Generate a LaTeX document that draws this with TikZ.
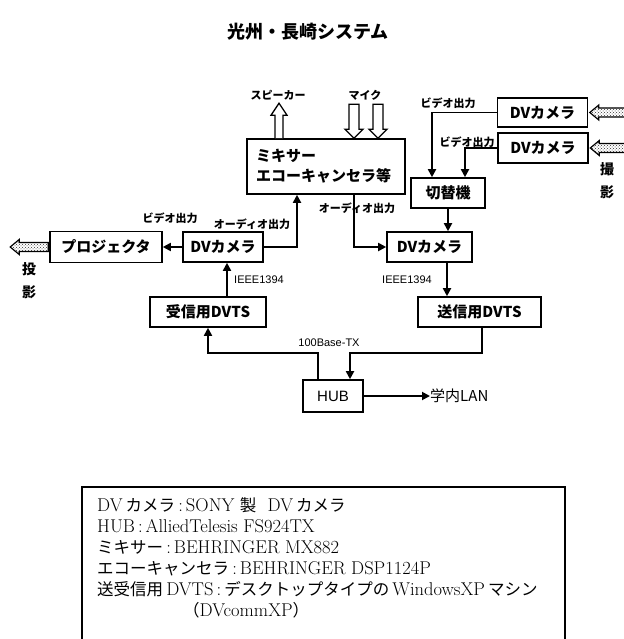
\documentclass[tikz,border=0pt]{standalone}
\usepackage{fontspec}
\newfontfamily\jp{Noto Sans CJK JP}
\newfontfamily\ls{Liberation Sans}
\usetikzlibrary{arrows.meta,patterns,calc}
\newcommand\Jtxt[1]{{\jp\fontsize{16.5}{21}\selectfont #1}}
\tikzset{
  box/.style={draw, line width=1.6pt, inner sep=0pt, font=\jp\bfseries\fontsize{15}{15}\selectfont},
  conn/.style={line width=1.8pt, -{Triangle[length=8pt,width=8pt]}},
  lbl/.style={inner sep=0pt, font=\jp\bfseries\fontsize{11}{11}\selectfont},
  nlbl/.style={inner sep=0pt, font=\ls\fontsize{11}{11}\selectfont},
  vlbl/.style={inner sep=0pt, align=center, font=\jp\bfseries\fontsize{14}{23}\selectfont},
  hollow/.style={draw, line width=1.3pt, fill=white},
  hatched/.style={draw, line width=1.2pt, pattern=crosshatch dots, pattern color=black!80}
}
\begin{document}
\begin{tikzpicture}[x=1pt,y=-1pt]
\useasboundingbox (0,0) rectangle (623,639);
% title
\node[inner sep=0pt, font=\jp\bfseries\fontsize{18}{18}\selectfont] (title) at (308,32) {光州・長崎システム};
% boxes
\node[box, minimum width=158, minimum height=55, align=left, text width=140pt,
      font=\jp\bfseries\fontsize{15}{20}\selectfont] (mix) at (326,166.5) {ミキサー\\エコーキャンセラ等};
\node[box, minimum width=90, minimum height=29] (cam1) at (542.5,112.5) {DVカメラ};
\node[box, minimum width=90, minimum height=30] (cam2) at (543,148) {DVカメラ};
\node[box, minimum width=74, minimum height=30] (sw) at (448,193) {切替機};
\node[box, minimum width=85, minimum height=30] (camR) at (429.5,247) {DVカメラ};
\node[box, minimum width=123, minimum height=30] (send) at (479.5,312) {送信用DVTS};
\node[box, minimum width=80, minimum height=30] (camL) at (223,247) {DVカメラ};
\node[box, minimum width=112, minimum height=31] (proj) at (106,247) {プロジェクタ};
\node[box, minimum width=116, minimum height=30] (recv) at (208,312) {受信用DVTS};
\node[box, minimum width=60, minimum height=32, font=\ls\fontsize{15}{15}\selectfont] (hub) at (333,396) {HUB};
\node[inner sep=0pt, anchor=west, font=\jp\fontsize{15}{15}\selectfont] (lan) at (430,396) {学内LAN};
\coordinate (bus) at (0,353);
% connectors
\draw[conn] (cam1.west) -| ([xshift=-16pt]sw.north);
\draw[conn] (cam2.west) -| ([xshift=17pt]sw.north);
\draw[conn] (sw.south) -- (sw.south |- camR.north);
\draw[conn] ([xshift=28pt]mix.south) |- (camR.west);
\draw[conn] ([xshift=17.5pt]camR.south) -- ([xshift=17.5pt]camR.south |- send.north);
\draw[conn] (camL.west) -- (proj.east);
\draw[conn] (camL.east) -| ([xshift=-29pt]mix.south);
\draw[conn] ([xshift=4pt]camL.south |- recv.north) -- ([xshift=4pt]camL.south);
\draw[conn] ([xshift=-15pt]hub.north) -- ([xshift=-15pt]hub.north |- bus) -| (recv.south);
\draw[conn] ([xshift=2.5pt]send.south) -- ([xshift=2.5pt]send.south |- bus) -| ([xshift=17pt]hub.north);
\draw[conn] (hub.east) -- (lan.west);
% hollow arrows
\draw[hollow] ([xshift=-51pt]mix.north) -- ++(0,-23) -- ++(-4,0) -- ++(8,-12) -- ++(8,12) -- ++(-4,0) -- ++(0,23);
\draw[hollow] ([xshift=28pt]mix.north) -- ++(-9,-9) -- ++(4,0) -- ++(0,-25) -- ++(10,0) -- ++(0,25) -- ++(4,0) -- cycle;
\draw[hollow] ([xshift=52pt]mix.north) -- ++(-9,-9) -- ++(4,0) -- ++(0,-25) -- ++(10,0) -- ++(0,25) -- ++(4,0) -- cycle;
% hatched arrows
\draw[hatched] ([xshift=1.5pt]cam1.east) -- ++(9,-7.5) -- ++(0,3) -- ++(40,0) -- ++(0,9) -- ++(-40,0) -- ++(0,3) -- cycle;
\draw[hatched] ([xshift=1.5pt]cam2.east) -- ++(9,-7.5) -- ++(0,3) -- ++(40,0) -- ++(0,9) -- ++(-40,0) -- ++(0,3) -- cycle;
\draw[hatched] ([xshift=-1pt]proj.west) ++(0,-4.5) -- ++(-29,0) -- ++(0,-3) -- ++(-9,7.5) -- ++(9,7.5) -- ++(0,-3) -- ++(29,0) -- cycle;
% labels
\node[lbl] (lspk) at (278,95) {スピーカー};
\node[lbl] (lmic) at (365,95) {マイク};
\node[lbl] (lv1) at (448,103) {ビデオ出力};
\node[lbl] (lv2) at (467,142) {ビデオ出力};
\node[lbl] (la1) at (357,208) {オーディオ出力};
\node[lbl] (la2) at (252,224) {オーディオ出力};
\node[lbl] (lv3) at (170,218) {ビデオ出力};
\node[nlbl] (li1) at (259,280) {IEEE1394};
\node[nlbl] (li2) at (407,280) {IEEE1394};
\node[nlbl] (lbase) at (329,343) {100Base-TX};
\node[vlbl] (lsat) at (607,181) {撮\\影};
\node[vlbl] (ltou) at (29,281) {投\\影};
% legend box
\draw[line width=1.3pt] (82,642) -- (82,487) -- (565,487) -- (565,642);
\node[inner sep=0pt, anchor=north west, align=left, font=\fontsize{18.5}{21}\selectfont] (legend) at (97,497) {%
DV\,\Jtxt{カメラ}\,:\,SONY \Jtxt{製}\ \ DV\,\Jtxt{カメラ}\\
HUB\,:\,AlliedTelesis FS924TX\\
\Jtxt{ミキサー}\,:\,BEHRINGER MX882\\
\Jtxt{エコーキャンセラ}\,:\,BEHRINGER DSP1124P\\
\Jtxt{送受信用}\,DVTS\,:\,\Jtxt{デスクトップタイプの}\,WindowsXP\,\Jtxt{マシン}\\
\hspace*{86pt}\Jtxt{（}DVcommXP\Jtxt{）}};
\end{tikzpicture}
\end{document}
